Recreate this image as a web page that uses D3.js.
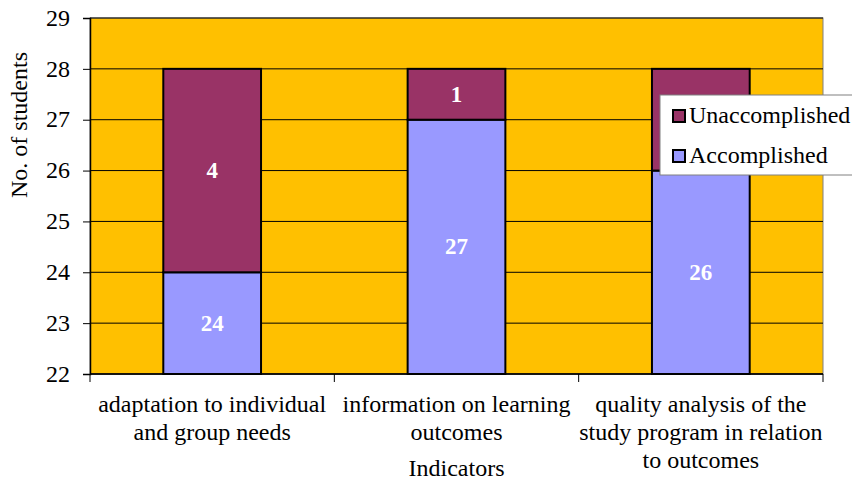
<!DOCTYPE html>
<html><head><meta charset="utf-8">
<script src="https://cdn.jsdelivr.net/npm/d3@7"></script>
<style>body{margin:0;background:#fff;overflow:hidden;} svg{display:block;font-family:"Liberation Serif","Times New Roman",serif;}</style>
</head><body>
<svg id="c" width="852" height="481"></svg>
<script>
const categories = [
  ["adaptation to individual", "and group needs"],
  ["information on learning", "outcomes"],
  ["quality analysis of the", "study program in relation", "to outcomes"]
];
const accomplished = [24, 27, 26];
const unaccomplished = [4, 1, 2];
const seriesNames = ["Unaccomplished", "Accomplished"];
const yTicks = [22, 23, 24, 25, 26, 27, 28, 29];
const colors = {acc: "#9999FF", unacc: "#993366", plot: "#FFC000"};

const svg = d3.select("#c");
const m = {l: 90, r: 29, t: 18, b: 107};
const W = 852, H = 481;
const FS = 24;
const x = d3.scaleBand().domain(d3.range(categories.length)).range([m.l, W - m.r]).paddingInner(0).paddingOuter(0);
const y = d3.scaleLinear().domain([22, 29]).range([H - m.b, m.t]);

// legend box geometry (legend sits over the plot, hiding what lies beneath)
const legBox = {x: 660, y: 95, w: 200, h: 80};
const underLegend = (px, py) => px >= legBox.x && px <= legBox.x + legBox.w && py >= legBox.y && py <= legBox.y + legBox.h;

// plot area
svg.append("rect").attr("x", m.l).attr("y", m.t).attr("width", W - m.r - m.l).attr("height", H - m.b - m.t)
  .attr("fill", colors.plot).attr("stroke", "#808080").attr("stroke-width", 1);

// gridlines
svg.append("g").selectAll("line").data(yTicks).join("line")
  .attr("x1", m.l).attr("x2", W - m.r).attr("y1", d => y(d)).attr("y2", d => y(d))
  .attr("stroke", "#000").attr("stroke-width", 1);

const bw = x.bandwidth() * 0.4;
const gBars = svg.append("g");
categories.forEach((c, i) => {
  const cx = x(i) + x.bandwidth() / 2;
  const a = accomplished[i], u = unaccomplished[i];
  gBars.append("rect").attr("x", cx - bw / 2).attr("y", y(a)).attr("width", bw).attr("height", y(22) - y(a))
    .attr("fill", colors.acc).attr("stroke", "#000").attr("stroke-width", 2);
  gBars.append("rect").attr("x", cx - bw / 2).attr("y", y(a + u)).attr("width", bw).attr("height", y(a) - y(a + u))
    .attr("fill", colors.unacc).attr("stroke", "#000").attr("stroke-width", 2);
  const la = y((22 + a) / 2), lu = y(a + u / 2);
  if (!underLegend(cx, la))
    gBars.append("text").attr("x", cx).attr("y", la).attr("dy", "0.33em").attr("text-anchor", "middle")
      .attr("fill", "#fff").attr("font-weight", "bold").attr("font-size", 23).text(a);
  if (!underLegend(cx, lu))
    gBars.append("text").attr("x", cx).attr("y", lu).attr("dy", "0.33em").attr("text-anchor", "middle")
      .attr("fill", "#fff").attr("font-weight", "bold").attr("font-size", 23).text(u);
});

// y axis
const ya = d3.axisLeft(y).tickValues(yTicks).tickSize(7).tickPadding(13).tickFormat(d3.format("d"));
const gy = svg.append("g").attr("transform", `translate(${m.l},0)`).call(ya);
gy.select(".domain").attr("stroke", "#000").attr("stroke-width", 1.5);
gy.selectAll(".tick line").attr("stroke", "#000");
gy.selectAll("text").attr("font-size", FS).attr("fill", "#000").attr("font-family", "Liberation Serif").attr("dy", "0.3em");

// x axis
const xa = svg.append("g");
xa.append("line").attr("x1", m.l).attr("x2", W - m.r).attr("y1", y(22)).attr("y2", y(22)).attr("stroke", "#000").attr("stroke-width", 1.5);
const bounds = d3.range(categories.length + 1).map(i => i < categories.length ? x(i) : x(i - 1) + x.bandwidth());
xa.selectAll("line.t").data(bounds).join("line").attr("class", "t")
  .attr("x1", d => d).attr("x2", d => d).attr("y1", y(22)).attr("y2", y(22) + 8).attr("stroke", "#000");
categories.forEach((c, i) => {
  const cx = x(i) + x.bandwidth() / 2;
  const t = xa.append("text").attr("text-anchor", "middle").attr("font-size", FS).attr("fill", "#000");
  c.forEach((line, j) => t.append("tspan").attr("x", cx).attr("y", 412 + j * 28).text(line));
});

svg.append("text").attr("x", (m.l + W - m.r) / 2).attr("y", 476).attr("text-anchor", "middle")
  .attr("font-size", FS).text("Indicators");
svg.append("text").attr("transform", "translate(27,125) rotate(-90)").attr("text-anchor", "middle")
  .attr("font-size", FS).text("No. of students");

// legend
const lg = svg.append("g").attr("transform", `translate(${legBox.x},${legBox.y})`);
lg.append("rect").attr("width", legBox.w).attr("height", legBox.h).attr("fill", "#fff").attr("stroke", "#808080");
const lc = [colors.unacc, colors.acc];
seriesNames.forEach((n, i) => {
  const base = 28 + i * 40;
  lg.append("rect").attr("x", 13).attr("y", base - 13).attr("width", 12).attr("height", 12)
    .attr("fill", lc[i]).attr("stroke", "#000").attr("stroke-width", 2);
  lg.append("text").attr("x", 29).attr("y", base).attr("font-size", FS).text(n);
});
</script>
</body></html>
